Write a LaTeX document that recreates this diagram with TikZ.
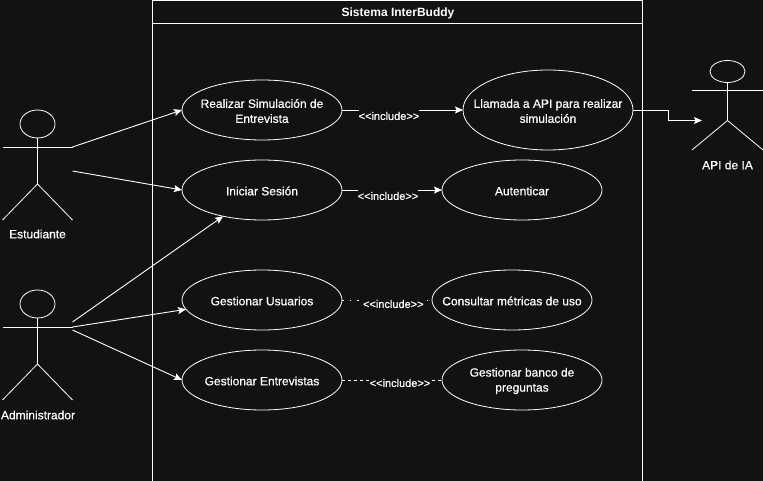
\documentclass[tikz,border=0pt]{standalone}
\usepackage{fontspec}
\setmainfont{Liberation Sans}
\newfontfamily\gruesofont[FakeBold=0.6]{Liberation Sans}
\usetikzlibrary{shapes.geometric}
\usetikzlibrary{positioning}
\usetikzlibrary{arrows.meta}
\definecolor{fondo}{HTML}{121212}
\tikzset{node distance=80pt, % Separation between use cases
usecase/.style={ % Sets the properties for each use case
ellipse,
draw=white,
line width=0.8pt,
inner sep=0pt,
outer sep=0pt,
minimum width=160pt,
minimum height=60pt},
casetext/.style={
text=white,
align=center,
yshift=-1pt,
font=\gruesofont\fontsize{12}{15}\selectfont},
actorhead/.style={
ellipse,
draw=white,
line width=0.8pt,
inner sep=0pt,
outer sep=0pt,
minimum width=35pt},
actorline/.style={
draw=white,
line width=0.8pt},
flecha/.style={
draw=white,
line width=0.9pt,
-{Stealth[length=8pt,width=7pt,inset=1.5pt]}},
incl/.style={
fill=fondo,
text=white,
inner sep=0pt,
minimum height=12pt,
font=\gruesofont\fontsize{11}{12}\selectfont}}

\begin{document}
\begin{tikzpicture}[x=1pt,y=-1pt]
                \useasboundingbox (0,0) rectangle (763,481);
                \fill[fondo] (0,0) rectangle (763,481);

                % system frame
                \draw[white, line width=1pt] (152.5,481) -- (152.5,1) -- (642,1) -- (642,481);
                \draw[white, line width=1pt] (152.5,23.5) -- (642,23.5);
                \node[text=white, font=\fontsize{12}{15}\selectfont\bfseries] (titulo) at (398,13) {Sistema InterBuddy};

                % use cases
                \node[usecase, label={[casetext]center:Realizar Simulación de\\Entrevista}] (simulacion) at (262,110) {};
                \node[usecase, below of = simulacion, label={[casetext]center:Iniciar Sesión}] (sesion) {};
                \node[usecase, below of = sesion, yshift=-30pt, label={[casetext]center:Gestionar Usuarios}] (usuarios) {};
                \node[usecase, below of = usuarios, label={[casetext]center:Gestionar Entrevistas}] (entrevistas) {};
                \node[usecase, right of = simulacion, xshift=206pt, minimum width=170pt, minimum height=80pt, label={[casetext]center:Llamada a API para realizar\\simulación}] (llamada) {};
                \node[usecase, right of = sesion, xshift=180pt, label={[casetext]center:Autenticar}] (autenticar) {};
                \node[usecase, right of = usuarios, xshift=170pt, label={[casetext]center:Consultar métricas de uso}] (metricas) {};
                \node[usecase, right of = entrevistas, xshift=180pt, label={[casetext]center:Gestionar banco de\\preguntas}] (banco) {};

                % actors
                \node[actorhead, minimum height=28pt] (estudiante) at (37.5,124) {};
                \draw[actorline] (estudiante.south) -- ++(0,46) coordinate (estcadera) -- ++(-35,36);
                \draw[actorline] (estcadera) -- ++(35,36);
                \draw[actorline] (2.5,147) -- (72.5,147) coordinate (estbrazo);
                \coordinate (estbajo) at (72.5,171);
                \node[casetext] (estlabel) at (37.5,233) {Estudiante};

                \node[actorhead, minimum height=28pt] (admin) at (37.5,304) {};
                \draw[actorline] (admin.south) -- ++(0,46) coordinate (admcadera) -- ++(-35,36);
                \draw[actorline] (admcadera) -- ++(35,36);
                \draw[actorline] (2.5,327) -- (72.5,327) coordinate (admbrazo);
                \coordinate (admalto) at (72.5,322);
                \coordinate (admbajo) at (72.5,330);
                \node[casetext] (admlabel) at (38,414) {Administrador};

                \node[actorhead, minimum height=22pt] (api) at (727.5,71.5) {};
                \draw[actorline] (api.south) -- ++(0,38) coordinate (apicadera) -- ++(-35.5,29.5);
                \draw[actorline] (apicadera) -- ++(35.5,29.5);
                \draw[actorline] (692,90.5) -- (763,90.5);
                \coordinate (apientra) at (702,120.5);
                \node[casetext] (apilabel) at (727.5,164) {API de IA};

                % connectors
                \draw[flecha] (estbrazo) -- (simulacion.west);
                \draw[flecha] (estbajo) -- (sesion.west);
                \draw[flecha] (admalto) -- (sesion.214);
                \draw[flecha] (admbrazo) -- (usuarios.187);
                \draw[flecha] (admbajo) -- (entrevistas.west);
                \draw[flecha] (llamada.east) -- ++(35,0) |- (apientra);

                % include relations
                \draw[flecha] (simulacion.east) -- node[incl, pos=.388, yshift=-6pt]{<{}<include>{}>} (llamada.west);
                \draw[flecha] (sesion.east) -- node[incl, pos=.46, yshift=-6pt]{<{}<include>{}>} (autenticar.west);
                \draw[actorline, dash pattern=on 1.6pt off 6.1pt] (usuarios.east) -- node[incl, pos=.57, yshift=-4pt]{<{}<include>{}>} (metricas.west);
                \draw[actorline, dash pattern=on 3pt off 3pt] (entrevistas.east) -- node[incl, pos=.58, yshift=-3pt]{<{}<include>{}>} (banco.west);
            \end{tikzpicture}
\end{document}
